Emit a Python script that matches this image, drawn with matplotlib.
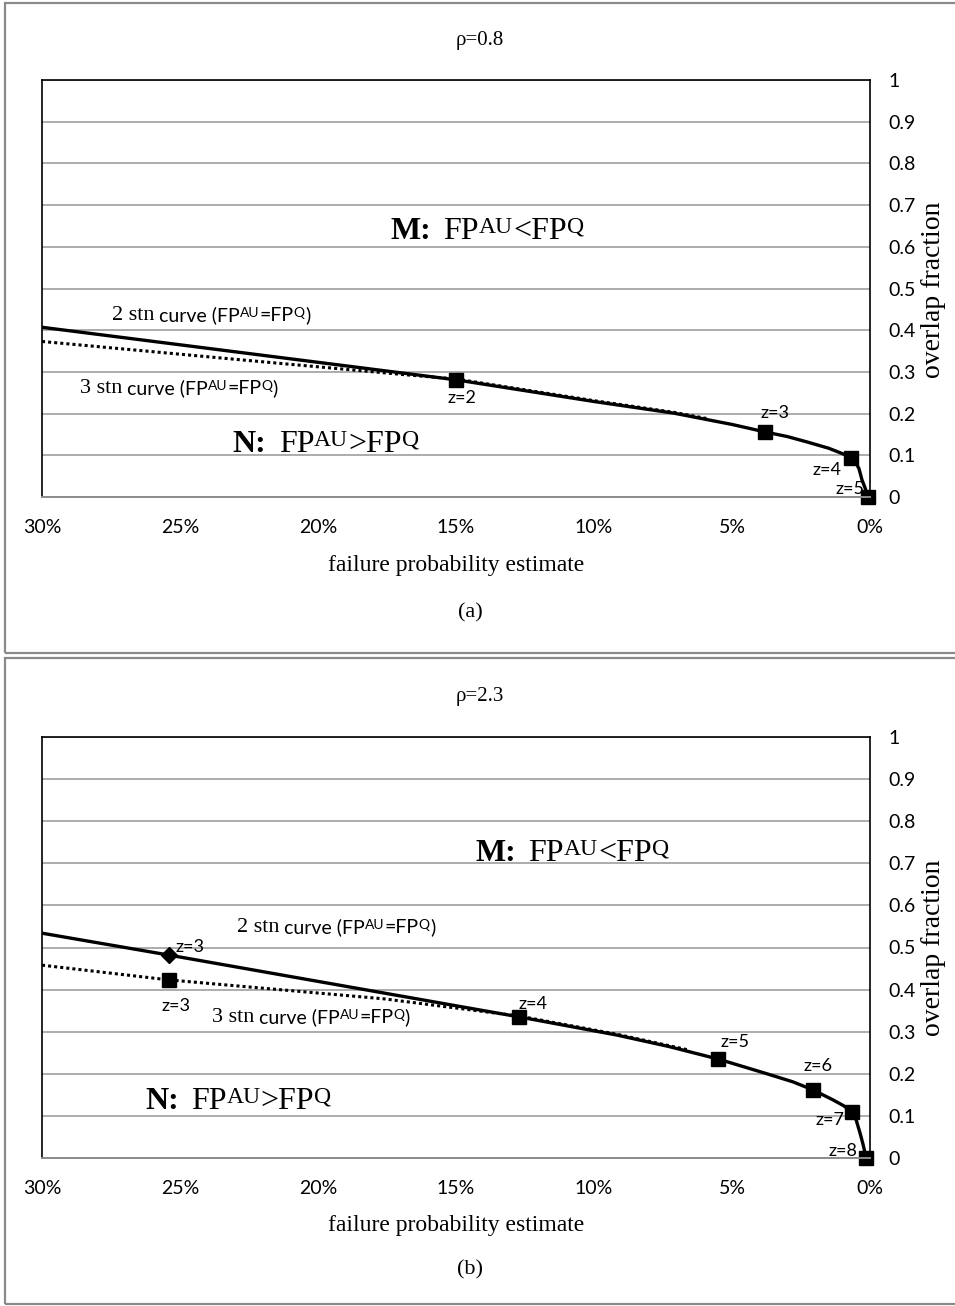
import matplotlib
matplotlib.use("Agg")
import matplotlib.pyplot as plt
from matplotlib import font_manager
from matplotlib.patches import Rectangle
from matplotlib.ticker import FuncFormatter, MultipleLocator

# fonts: narrow sans for numbers, Times-like serif for titles
_installed = {f.name for f in font_manager.fontManager.ttflist}
SANS = "Liberation Sans Narrow" if "Liberation Sans Narrow" in _installed else "Lato"
SERIF = "Liberation Serif"

W, H = 955, 1306

# ── panel (a): rho = 0.8 ─────────────────────────────────────
a_2stn_x = [0.30, 0.15, 0.10, 0.071, 0.050, 0.038, 0.030, 0.0228, 0.015, 0.0100,
            0.0069, 0.0052, 0.0040, 0.0029, 0.0018, 0.0007]
a_2stn_y = [0.407, 0.281, 0.229, 0.201, 0.174, 0.156, 0.145, 0.132, 0.117, 0.104,
            0.094, 0.083, 0.068, 0.041, 0.022, 0.0]
a_3stn_x = [0.30, 0.228, 0.168, 0.15, 0.10, 0.071, 0.059]
a_3stn_y = [0.373, 0.329, 0.293, 0.283, 0.231, 0.203, 0.188]
a_sq_x = [0.15, 0.038, 0.0069, 0.0007]
a_sq_y = [0.281, 0.156, 0.094, 0.0]
a_sq_z = ["z=2", "z=3", "z=4", "z=5"]
a_sq_off = [(4, -13), (7, 14), (-17, -9), (-13, 6)]

# ── panel (b): rho = 2.3 ─────────────────────────────────────
b_2stn_x = [0.30, 0.254, 0.127, 0.0917, 0.073, 0.055, 0.0373, 0.028, 0.0207, 0.0134,
            0.0095, 0.0065, 0.0050, 0.0036, 0.0025, 0.0014]
b_2stn_y = [0.534, 0.482, 0.335, 0.292, 0.265, 0.235, 0.200, 0.181, 0.162, 0.138,
            0.124, 0.109, 0.090, 0.059, 0.032, 0.0]
b_3stn_x = [0.30, 0.254, 0.176, 0.127, 0.0917, 0.073, 0.066]
b_3stn_y = [0.458, 0.423, 0.378, 0.337, 0.294, 0.267, 0.257]
b_dia_x = [0.254]
b_dia_y = [0.482]
b_dia_z = ["z=3"]
b_dia_off = [(15, 6)]
b_sq_x = [0.254, 0.127, 0.055, 0.0207, 0.0065, 0.0014]
b_sq_y = [0.423, 0.335, 0.235, 0.162, 0.109, 0.0]
b_sq_z = ["z=3", "z=4", "z=5", "z=6", "z=7", "z=8"]
b_sq_off = [(5, -19), (10, 9), (12, 12), (4, 17), (-16, -6), (-17, 5)]

x_ticks = [0.30, 0.25, 0.20, 0.15, 0.10, 0.05, 0.0]

# rich labels: (text, size, family, weight, gap before [pt], rise [pt])
LBL_2 = [("2 stn", 16, SERIF, "normal", 0, 0), ("curve (FP", 14, SANS, "normal", 3.5, 0.8),
         ("AU", 10, SANS, "normal", 0, 4.2), ("=FP", 14, SANS, "normal", 0, 0.8),
         ("Q", 10, SANS, "normal", 0, 4.2), (")", 14, SANS, "normal", 0, 0.8)]
LBL_3 = [("3 stn", 16, SERIF, "normal", 0, 0)] + LBL_2[1:]
LBL_M = [("M:", 23, SERIF, "bold", 0, 0), ("FP", 23, SERIF, "normal", 9, 0),
         ("AU", 17, SERIF, "normal", 0, 6.0), ("<FP", 23, SERIF, "normal", 0, 0),
         ("Q", 17, SERIF, "normal", 0, 6.0)]
LBL_N = [("N:", 23, SERIF, "bold", 0, 0)] + [LBL_M[1], LBL_M[2],
         (">FP", 23, SERIF, "normal", 0, 0), LBL_M[4]]


def fx(px):
    return px / W


def fy(py):
    return 1 - py / H


def fmt_y(v, _):
    return "0" if abs(v) < 1e-9 else ("1" if abs(v - 1) < 1e-9 else f"{v:.1f}")


def rich_text(ax, x, y, pieces):
    """Write pieces one after another, starting at data (x, y) baseline."""
    s, size, fam, wt, _, rise = pieces[0]
    first = ax.text(x, y, s, fontsize=size, family=fam, weight=wt, va="baseline")
    prev = first
    for s, size, fam, wt, gap, rise in pieces[1:]:
        prev = ax.annotate(s, xy=(1, 0), xycoords=(prev, first), xytext=(gap, rise),
                           textcoords="offset points", ha="left", va="bottom",
                           fontsize=size, family=fam, weight=wt)
    return first


def setup_axes(ax):
    ax.set_xlim(0.30, 0.0)
    ax.set_ylim(0, 1)
    ax.set_xticks(x_ticks)
    ax.xaxis.set_major_formatter(FuncFormatter(lambda v, _: f"{v * 100:.0f}%"))
    ax.yaxis.set_major_locator(MultipleLocator(0.1))
    ax.yaxis.set_major_formatter(FuncFormatter(fmt_y))
    ax.yaxis.tick_right()
    ax.tick_params(axis="both", length=0, labelsize=14)
    ax.tick_params(axis="x", pad=16)
    ax.tick_params(axis="y", pad=13)
    for lab in ax.get_xticklabels() + ax.get_yticklabels():
        lab.set_fontfamily(SANS)
    ax.grid(axis="y", color="#a6a6a6", lw=1.3)
    ax.set_axisbelow(True)
    for side in ["top", "left", "right"]:
        ax.spines[side].set_color("black")
        ax.spines[side].set_linewidth(1.2)
    ax.spines["bottom"].set_color("#8c8c8c")
    ax.spines["bottom"].set_linewidth(1.4)


def label_points(ax, xs, ys, zs, offs):
    for x, y, z, off in zip(xs, ys, zs, offs):
        ax.annotate(z, (x, y), xytext=off, textcoords="offset points",
                    ha="center", va="center", fontsize=13, family=SANS)


fig = plt.figure(figsize=(W / 100, H / 100), dpi=100)

# panel frames
for top, bot in [(3, 653), (658, 1304)]:
    fig.patches.append(Rectangle((fx(5), fy(bot)), fx(960) - fx(5), fy(top) - fy(bot),
                                 transform=fig.transFigure, fill=False,
                                 ec="#8a8a8a", lw=1.6))

# ── (a) ──
ax1 = fig.add_axes([fx(42), fy(497), fx(870) - fx(42), fy(80) - fy(497)])
setup_axes(ax1)
ax1.plot(a_3stn_x, a_3stn_y, color="black", lw=2.2, ls=(0, (1, 1)))
ax1.plot(a_2stn_x, a_2stn_y, color="black", lw=2.4)
ax1.plot(a_sq_x, a_sq_y, ls="none", marker="s", ms=10, color="black", clip_on=False)
label_points(ax1, a_sq_x, a_sq_y, a_sq_z, a_sq_off)
rich_text(ax1, 0.2746, 0.424, LBL_2)
rich_text(ax1, 0.2862, 0.249, LBL_3)
rich_text(ax1, 0.1739, 0.619, LBL_M)
rich_text(ax1, 0.2310, 0.108, LBL_N)

fig.text(fx(480), fy(40), "ρ=0.8", fontsize=15, family=SERIF, ha="center", va="center")
fig.text(fx(456), fy(565), "failure probability estimate", fontsize=17, family=SERIF,
         ha="center", va="center")
fig.text(fx(470), fy(613), "(a)", fontsize=16, family=SERIF, ha="center", va="center")
fig.text(fx(933), fy(290), "overlap fraction", fontsize=20, family=SERIF, rotation=90,
         ha="center", va="center")

# ── (b) ──
ax2 = fig.add_axes([fx(42), fy(1158), fx(870) - fx(42), fy(737) - fy(1158)])
setup_axes(ax2)
ax2.plot(b_3stn_x, b_3stn_y, color="black", lw=2.2, ls=(0, (1, 1)))
ax2.plot(b_2stn_x, b_2stn_y, color="black", lw=2.4)
ax2.plot(b_dia_x, b_dia_y, ls="none", marker="D", ms=8, color="black")
ax2.plot(b_sq_x, b_sq_y, ls="none", marker="s", ms=10, color="black", clip_on=False)
label_points(ax2, b_dia_x, b_dia_y, b_dia_z, b_dia_off)
label_points(ax2, b_sq_x, b_sq_y, b_sq_z, b_sq_off)
rich_text(ax2, 0.2293, 0.537, LBL_2)
rich_text(ax2, 0.2384, 0.323, LBL_3)
rich_text(ax2, 0.1431, 0.705, LBL_M)
rich_text(ax2, 0.2627, 0.116, LBL_N)

fig.text(fx(480), fy(697), "ρ=2.3", fontsize=15, family=SERIF, ha="center", va="center")
fig.text(fx(456), fy(1226), "failure probability estimate", fontsize=17, family=SERIF,
         ha="center", va="center")
fig.text(fx(470), fy(1270), "(b)", fontsize=16, family=SERIF, ha="center", va="center")
fig.text(fx(933), fy(948), "overlap fraction", fontsize=20, family=SERIF, rotation=90,
         ha="center", va="center")

fig.savefig("out.png", dpi=100)
